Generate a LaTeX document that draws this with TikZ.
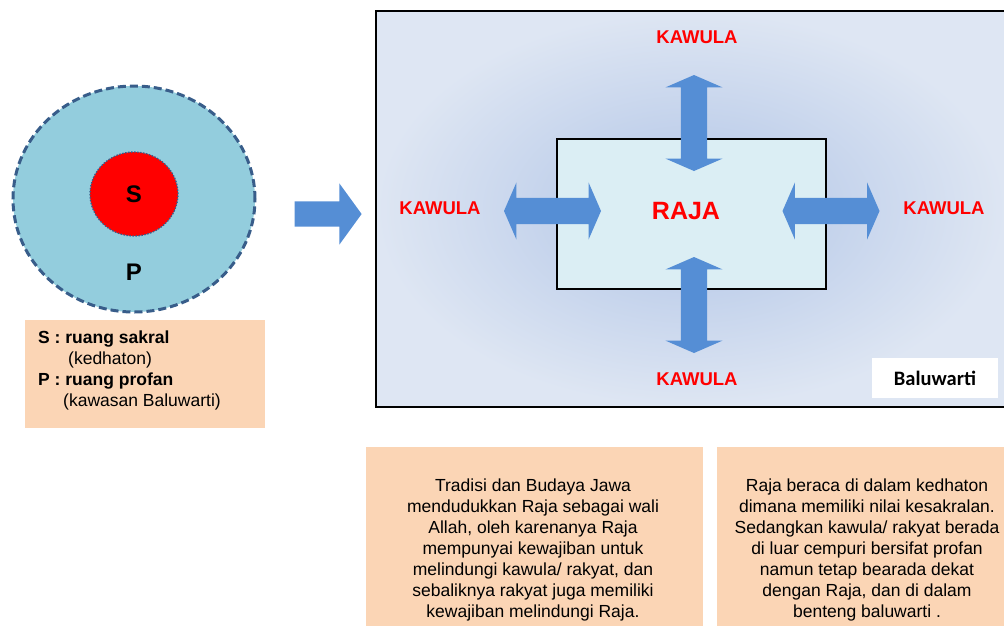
\documentclass[tikz,border=0pt]{standalone}
\usepackage{fontspec}
\setmainfont{Liberation Sans}
\newfontfamily\calibri{Carlito}
\usepackage{xcolor}
\usepackage{tikz}
\usetikzlibrary{positioning}
\usetikzlibrary{shapes.geometric}
\usetikzlibrary{shapes.arrows}
\definecolor{zoneblue}{RGB}{147,205,221}
\definecolor{edgeblue}{RGB}{56,93,138}
\definecolor{peach}{RGB}{251,213,181}
\definecolor{arrowblue}{RGB}{85,142,213}
\definecolor{rajabox}{RGB}{219,238,244}
\definecolor{shadein}{RGB}{176,196,230}
\definecolor{shadeout}{RGB}{222,230,243}
\tikzset {
  % plain text in the boxes
  body/.style={font=\fontsize{17.5}{21}\selectfont, inner sep=0pt},
  % peach boxes
  note/.style={fill=peach, draw=none, inner sep=0pt},
  % the two zones of the circle
  zone/.style={ellipse, inner sep=0pt},
  % red labels round the box
  kawula/.style={text=red, font=\fontsize{18.5}{22}\selectfont\bfseries, inner sep=0pt},
  % blue block arrows
  twoway/.style={double arrow, fill=arrowblue, draw=none, inner xsep=0pt, inner ysep=13pt,
    minimum height=97pt, double arrow head extend=15.5pt, double arrow tip angle=133},
  upright/.style={twoway, shape border rotate=90, inner xsep=13pt, inner ysep=0pt, minimum height=96pt},
}

\begin{document}
\begin{tikzpicture}[x=1pt, y=-1pt]
        \useasboundingbox (0,0) rectangle (1004,625);
        \clip (0,0) rectangle (1004,625);

        % left part: the circle and its legend
        \node[zone, fill=zoneblue, draw=edgeblue, line width=3pt, dash pattern=on 8pt off 4pt,
          minimum width=242pt, minimum height=226pt] (profan) at (134,199) {};
        \node[zone, fill=red, draw=edgeblue, line width=1.3pt, dash pattern=on 1.5pt off 1.5pt,
          minimum width=88pt, minimum height=84pt, font=\fontsize{24}{24}\selectfont\bfseries] (sakral) at (134,194) {S};
        \node[font=\fontsize{24}{24}\selectfont\bfseries, inner sep=0pt] (p) at (134,272) {P};

        \node[note, minimum width=240pt, minimum height=108pt] (legend) at (145,374) {};
        \node[body, align=left, anchor=west] (legendtext) at (38,370)
          {\textbf{S : ruang sakral}\\ \hspace*{30pt}(kedhaton)\\ \textbf{P : ruang profan}\\ \hspace*{25pt}(kawasan Baluwarti)};

        \node[single arrow, fill=arrowblue, draw=none, inner xsep=0pt, inner ysep=12.5pt, minimum height=67pt,
          single arrow head extend=18pt, single arrow tip angle=108] (go) at (323.5,214) {};

        % right part: Baluwarti
        \node[draw, line width=2.5pt, inner color=shadein, outer color=shadeout,
          minimum width=630pt, minimum height=396pt] (baluwarti) at (691,209) {};
        \node[draw, line width=2pt, fill=rajabox, minimum width=269pt, minimum height=150pt] (rajabox) at (691.5,214) {};

        \node[twoway] (west) at (552.5,211) {};
        \node[twoway] (east) at (831,211) {};
        \node[upright] (north) at (694,123) {};
        \node[upright] (south) at (694,305) {};

        \node[text=red, font=\fontsize{25}{25}\selectfont\bfseries, inner sep=0pt] (raja) at (686,211) {RAJA};
        \node[kawula] (k1) at (697,37) {KAWULA};
        \node[kawula] (k2) at (697,379) {KAWULA};
        \node[kawula] (k3) at (440,208) {KAWULA};
        \node[kawula] (k4) at (944,208) {KAWULA};

        \node[fill=white, minimum width=126pt, minimum height=40pt, inner sep=0pt,
          font=\calibri\fontsize{20.5}{20.5}\selectfont\bfseries] (tag) at (935,378) {Baluwarti};

        % notes below
        \node[note, minimum width=337pt, minimum height=190pt, anchor=north west] (note1) at (366,447) {};
        \node[note, minimum width=300pt, minimum height=190pt, anchor=north west] (note2) at (717,447) {};
        \node[body, align=center] (text1) at (533,550)
          {Tradisi dan Budaya Jawa\\ mendudukkan Raja sebagai wali\\ Allah, oleh karenanya Raja\\
           mempunyai kewajiban untuk\\ melindungi kawula/ rakyat, dan\\ sebaliknya rakyat juga memiliki\\
           kewajiban melindungi Raja.};
        \node[body, align=center] (text2) at (867,550)
          {Raja beraca di dalam kedhaton\\ dimana memiliki nilai kesakralan.\\ Sedangkan kawula/ rakyat berada\\
           di luar cempuri bersifat profan\\ namun tetap bearada dekat\\ dengan Raja, dan di dalam\\
           benteng baluwarti .};
      \end{tikzpicture}
\end{document}
